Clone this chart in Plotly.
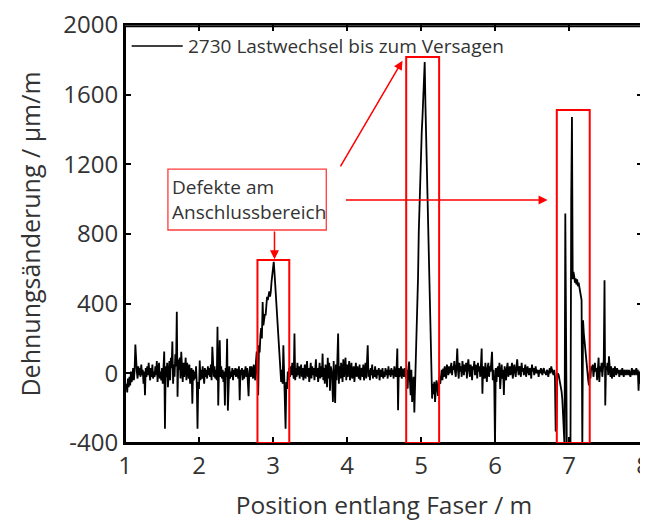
import numpy as np
import plotly.graph_objects as go

# Fibre position sampling: start, step (m)
X_START = 1.0
X_STEP = 0.01

# Strain change (µm/m), one row per 0.1 m
strain_rows = [
    [-40, -90, -60, -110, -30, -80, -20, -70, 10, -50],      # 1.0
    [-20, 30, -40, 20, 165, 60, 10, -30, 40, -10],           # 1.1
    [30, -20, 50, -10, 20, -60, 10, -126, 30, -20],          # 1.2
    [40, -10, 60, 0, -40, 30, -20, 50, -30, 10],             # 1.3
    [-20, 40, -10, 70, -50, 20, 60, -30, 10, -40],           # 1.4
    [30, -60, 20, 125, -318, 40, -20, 60, -80, 20],          # 1.5
    [70, -40, 90, 30, 182, -60, 50, -20, 110, 40],           # 1.6
    [354, -134, 80, 20, 90, -30, 124, 40, -50, 60],          # 1.7
    [-20, 30, 90, -40, 60, 20, -30, 50, -60, 10],            # 1.8
    [30, -174, 20, -40, 10, -30, 40, -60, -318, -50],        # 1.9
    [-90, 73, -40, 20, -30, 40, -10, -60, 30, -20],          # 2.0
    [20, -30, 40, -10, 30, -20, 50, -40, 153, 10],           # 2.1
    [-20, 40, -30, 20, -40, 268, -185, 30, 190, -20],        # 2.2
    [40, -30, 20, -50, 10, -185, 30, -20, 199, -214],        # 2.3
    [20, 40, -30, 10, -20, 30, -40, 20, -10, 30],            # 2.4
    [-20, 27, 10, -30, 40, -155, 20, -10, 30, -40],          # 2.5
    [20, -30, 10, 40, -20, 30, -50, -132, 10, 40],           # 2.6
    [-20, 40, 10, -30, 50, 20, -40, 67, 125, -10],           # 2.7
    [-126, 161, 120, 218, 260, 200, 410, 276, 300, 340],     # 2.8
    [333, 380, 440, 420, 458, 470, 440, 467, 525, 560],      # 2.9
    [600, 640, 580, 505, 420, 333, 250, 200, 142, 70],       # 3.0
    [8, -49, 20, -60, 161, -30, -80, -318, -50, -90],        # 3.1
    [10, -40, 30, -20, 40, -10, 60, 20, -30, 228],           # 3.2
    [-40, 30, -20, 60, -10, 40, -30, 20, 50, -20],           # 3.3
    [30, -40, 20, 50, -30, 10, 70, -20, 30, -50],            # 3.4
    [20, 60, -30, 40, -10, 30, -40, 20, 80, -20],            # 3.5
    [30, -50, 20, 60, -30, 40, -20, 113, -40, 30],           # 3.6
    [-60, 50, 20, -80, 90, -30, 60, -100, 40, 20],           # 3.7
    [-30, -164, 70, -20, -170, 50, -40, 80, 228, -60],       # 3.8
    [40, -30, 60, 10, -50, 80, -20, 30, 90, -40],            # 3.9
    [50, -20, 30, 70, -40, 20, 60, -30, 10, 40],             # 4.0
    [-50, 30, 60, -20, 40, 10, -30, 50, -40, 20],            # 4.1
    [30, -20, 50, -40, 20, 60, -30, 40, 161, -20],           # 4.2
    [20, -40, 30, -10, 50, -30, 20, -20, 40, -10],           # 4.3
    [-30, 20, -10, 30, -40, 10, 20, -20, 30, -30],           # 4.4
    [10, -20, 30, -10, 20, -30, 40, -10, 20, -20],           # 4.5
    [30, -10, 20, -30, 40, 10, -20, 30, 142, -212],          # 4.6
    [30, -20, 10, 40, -30, 27, 10, -20, 30, -30],            # 4.7
    [-30, 20, -88, 30, 67, -40, -126, 20, -164, -80],        # 4.8
    [-20, -225, -69, 40, 150, 333, 550, 813, 1000, 1194],    # 4.9
    [1250, 1386, 1470, 1570, 1680, 1788, 1540, 1350, 1150, 930],  # 5.0
    [716, 480, 238, 80, -30, -145, -60, -120, -49, -164],    # 5.1
    [-100, -40, -69, -130, -88, -20, -60, -30, 20, -40],     # 5.2
    [27, -20, 40, 10, -30, 50, 20, -10, 40, 0],              # 5.3
    [30, 60, -10, 40, 20, 70, 10, -20, 50, 142],             # 5.4
    [20, -30, 60, 10, 40, -20, 70, 30, -10, 50],             # 5.5
    [10, 60, -30, 40, 80, 20, -20, 50, 30, -40],             # 5.6
    [40, 20, 70, -10, 50, 30, -30, 60, 10, 40],              # 5.7
    [-20, 50, 142, -117, 40, 20, -30, 60, 10, -50],          # 5.8
    [30, 60, -20, 40, 10, 70, 124, -40, 20, -60],            # 5.9
    [-420, 30, -50, 20, 40, -20, 60, -90, 10, 50],           # 6.0
    [-30, 20, -124, 40, 10, -40, 30, 60, -20, 20],           # 6.1
    [40, -10, 30, 60, -30, 20, 50, 10, -20, 40],             # 6.2
    [80, 20, -10, 40, 30, -20, 60, 10, 30, -10],             # 6.3
    [30, 50, -20, 20, 40, 10, -10, 30, 20, -30],             # 6.4
    [50, 10, 30, -10, 20, 40, 0, 20, 10, -20],               # 6.5
    [20, 0, 30, 10, -10, 20, 30, 0, 10, -10],                # 6.6
    [20, 10, -20, 10, 30, 0, 40, 20, 10, -10],               # 6.7
    [20, -20, -334, -318, -10, 0, -10, -30, -50, -80],       # 6.8
    [-105, -150, -250, -420, -420, 917, -420, -420, -420, -420],  # 6.9
    [-420, -420, -420, 993, 1472, 540, 582, 560, 520, 545],  # 7.0
    [510, 540, 500, 520, 490, 478, 450, 420, -420, 305],     # 7.1
    [230, 180, 142, 90, 46, 0, -40, -69, 10, -30],           # 7.2
    [40, 20, 50, -20, 30, 60, 10, 30, -40, 20],              # 7.3
    [90, -50, 40, 10, 60, -20, 30, 80, 534, -184],           # 7.4
    [40, 20, 60, -10, 98, 30, -20, 40, -30, 10],             # 7.5
    [30, -20, 40, 10, -10, 30, 0, 20, -20, 10],              # 7.6
    [20, -10, 30, 0, -20, 20, 10, -10, 20, 0],               # 7.7
    [-10, 20, 0, -20, 10, 30, -10, 0, 20, -10],              # 7.8
    [10, 30, -10, 20, -100, 10, -60, 20, -30, -80],          # 7.9
    [-50],                                                   # 8.0
]

series_name = "2730 Lastwechsel bis zum Versagen"
x_title = "Position entlang Faser / m"
y_title = "Dehnungsänderung / µm/m"
x_ticks = [1, 2, 3, 4, 5, 6, 7, 8]
y_ticks = [-400, 0, 400, 800, 1200, 1600, 2000]
y_tick_text = ["-400", "0", "400", "800", "1200", "1600", "2000"]
note_lines = ["Defekte am", "Anschlussbereich"]

strain = [v for row in strain_rows for v in row]
position = [round(X_START + i * X_STEP, 4) for i in range(len(strain))]

FONT = "Open Sans"
RED = "#ff0000"
TXT = "#333333"

fig = go.Figure()
fig.add_trace(go.Scatter(
    x=position, y=strain, mode="lines", name=series_name, showlegend=False,
    line=dict(color="black", width=1.8),
))

# frame around the plot area (kept just inside the edges so it always shows)
fig.add_shape(type="rect", xref="paper", yref="paper", x0=0, x1=0.998, y0=0, y1=0.997,
              line=dict(color="black", width=2), layer="above")

# legend (drawn in place, like the original's inset key)
fig.add_shape(type="line", xref="x", yref="y", x0=1.09, x1=1.78, y0=1880, y1=1880,
              line=dict(color="black", width=1.5))
fig.add_annotation(x=1.83, y=1880, xref="x", yref="y", text=series_name, showarrow=False,
                   xanchor="left", yanchor="middle",
                   font=dict(family=FONT, size=19, color=TXT))

# red highlight boxes around the defects
boxes = [(2.79, 3.22, 651), (4.80, 5.245, 1816), (6.835, 7.28, 1512)]
for x0, x1, ytop in boxes:
    fig.add_shape(type="rect", xref="x", yref="y", x0=x0, x1=x1, y0=-400, y1=ytop,
                  line=dict(color=RED, width=2), layer="above")

# note box
fig.add_shape(type="rect", xref="x", yref="y", x0=1.58, x1=3.72, y0=823, y1=1173,
              line=dict(color="#ff3b3b", width=1.3))
fig.add_annotation(x=1.61, y=998, xref="x", yref="y", text="<br>".join(note_lines),
                   showarrow=False, xanchor="left", yanchor="middle", align="left",
                   font=dict(family=FONT, size=19, color=TXT))

# arrows
arrows = [((3.02, 823), (3.02, 655)), ((3.90, 1179), (4.75, 1795)), ((3.965, 995), (6.71, 995))]
for (ax, ay), (x, y) in arrows:
    fig.add_annotation(x=x, y=y, ax=ax, ay=ay, xref="x", yref="y", axref="x", ayref="y",
                       text="", showarrow=True, arrowhead=2, arrowsize=1.2, arrowwidth=1.5,
                       arrowcolor=RED)

axis_common = dict(showline=True, linecolor="black", linewidth=2, mirror="ticks",
                   ticks="inside", ticklen=6, tickwidth=2, tickcolor="black",
                   showgrid=False, zeroline=False, ticklabeloverflow="allow",
                   tickfont=dict(family=FONT, size=24, color=TXT))

fig.update_xaxes(range=[1, 8], tickvals=x_ticks, title_text=x_title, title_standoff=22,
                 automargin="left",
                 title_font=dict(family=FONT, size=24.5, color=TXT), **axis_common)
fig.update_yaxes(range=[-400, 2000], tickvals=y_ticks, ticktext=y_tick_text,
                 title_text=y_title, title_standoff=16, automargin="bottom",
                 title_font=dict(family=FONT, size=25, color=TXT), **axis_common)

# the page body adds an 8 px offset, so the figure is 640x513 inside the 648x521 window
fig.update_layout(
    width=640, height=513,
    margin=dict(l=117, r=5, t=17, b=78),
    paper_bgcolor="white", plot_bgcolor="white",
    showlegend=False,
    font=dict(family=FONT),
)

fig.write_html("out.html")
